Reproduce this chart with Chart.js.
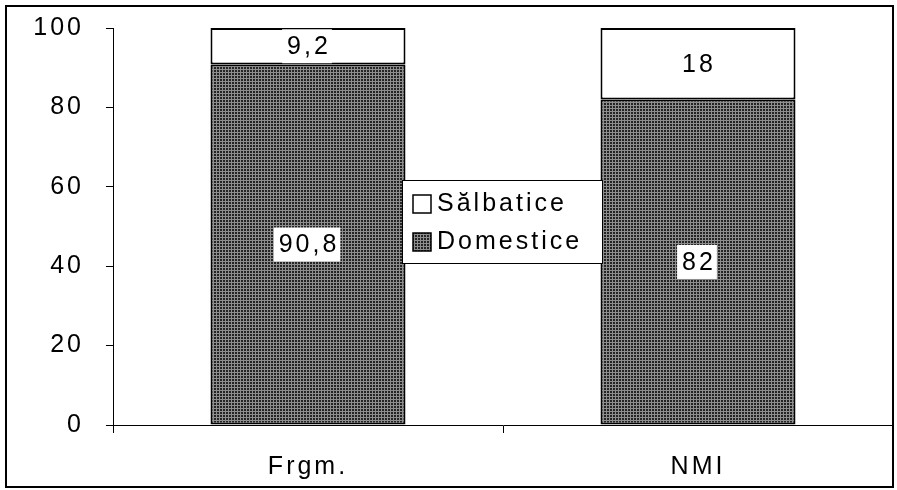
<!DOCTYPE html>
<html>
<head>
<meta charset="utf-8">
<script src="https://cdn.jsdelivr.net/npm/chart.js@4.4.1/dist/chart.umd.min.js"></script>
<style>
  html, body { margin: 0; padding: 0; background: #fff; }
  #wrap { width: 897px; height: 490px; position: relative; }
</style>
</head>
<body>
<div id="wrap"><canvas id="c" width="897" height="490"></canvas></div>
<script>
const categories = ["Frgm.", "NMI"];
const domestice = [90.8, 82];
const salbatice = [9.2, 18];
const seriesNames = ["Domestice", "Sălbatice"];
const yTicks = [0, 20, 40, 60, 80, 100];

const FONT = "'Liberation Sans', Arial, sans-serif";
const FSIZE = 25;
const SPACING = '3px';

function makePattern() {
  const t = document.createElement('canvas');
  t.width = 3; t.height = 3;
  const g = t.getContext('2d');
  g.fillStyle = '#8e8e8e';
  g.fillRect(0, 0, 3, 3);
  g.fillStyle = '#242424';
  g.fillRect(1, 1, 2, 2);
  return document.getElementById('c').getContext('2d').createPattern(t, 'repeat');
}
const pattern = makePattern();

function fmt(v) { return String(v).replace('.', ','); }

const spacingPlugin = {
  id: 'spacing',
  beforeUpdate(chart) { chart.ctx.letterSpacing = SPACING; },
  beforeLayout(chart) { chart.ctx.letterSpacing = SPACING; },
  beforeDraw(chart) { chart.ctx.letterSpacing = SPACING; }
};

const labelPlugin = {
  id: 'valueLabels',
  afterDatasetsDraw(chart) {
    const ctx = chart.ctx;
    ctx.save();
    ctx.letterSpacing = SPACING;
    ctx.font = FSIZE + 'px ' + FONT;
    ctx.textAlign = 'center';
    ctx.textBaseline = 'middle';
    chart.data.datasets.forEach((ds, di) => {
      const meta = chart.getDatasetMeta(di);
      meta.data.forEach((el, i) => {
        const txt = fmt(ds.data[i]);
        const cx = el.x;
        const cy = (el.y + el.base) / 2;
        const w = ctx.measureText(txt).width;
        ctx.fillStyle = '#fff';
        ctx.fillRect(cx - w / 2 - 4, cy - 17, w + 6, 34);
        ctx.fillStyle = '#000';
        ctx.fillText(txt, cx + 1, cy + 1);
      });
    });
    ctx.restore();
  }
};

const legendPlugin = {
  id: 'boxLegend',
  afterDraw(chart) {
    const ctx = chart.ctx;
    ctx.save();
    ctx.letterSpacing = SPACING;
    const x = 402, y = 180, w = 200, h = 83;
    ctx.fillStyle = '#fff';
    ctx.fillRect(x, y, w, h);
    ctx.strokeStyle = '#000';
    ctx.lineWidth = 1;
    ctx.strokeRect(x + 0.5, y + 0.5, w, h);
    ctx.font = FSIZE + 'px ' + FONT;
    ctx.textBaseline = 'middle';
    ctx.textAlign = 'left';
    const items = [chart.data.datasets[1], chart.data.datasets[0]];
    items.forEach((ds, k) => {
      const cy = y + 23 + k * 38;
      ctx.fillStyle = ds.backgroundColor;
      ctx.fillRect(x + 11, cy - 8, 18, 18);
      ctx.strokeStyle = '#000';
      ctx.lineWidth = 1.5;
      ctx.strokeRect(x + 11, cy - 8, 18, 18);
      ctx.fillStyle = '#000';
      ctx.fillText(ds.label, x + 35, cy + 1);
    });
    ctx.strokeStyle = '#000';
    ctx.lineWidth = 2;
    ctx.strokeRect(6, 6, 887, 481);
    ctx.restore();
  }
};

new Chart(document.getElementById('c'), {
  type: 'bar',
  data: {
    labels: categories,
    datasets: [
      { label: seriesNames[0], data: domestice, backgroundColor: pattern, borderColor: '#000', borderWidth: 2, borderSkipped: false },
      { label: seriesNames[1], data: salbatice, backgroundColor: '#fff', borderColor: '#000', borderWidth: 2, borderSkipped: false }
    ]
  },
  options: {
    responsive: false,
    animation: false,
    events: [],
    layout: { padding: { top: 28, right: 4, left: 0, bottom: 0 } },
    datasets: { bar: { categoryPercentage: 1, barPercentage: 0.5 } },
    plugins: { legend: { display: false }, tooltip: { enabled: false } },
    scales: {
      x: {
        stacked: true,
        afterFit(s) { s.height = 65; s.paddingLeft = 0; s.paddingRight = 0; },
        grid: { display: true, drawOnChartArea: false, drawTicks: true, tickLength: 8, color: '#000', offset: true },
        border: { display: true, color: '#000', width: 1 },
        ticks: { color: '#000', font: { family: FONT, size: FSIZE }, padding: 19 }
      },
      y: {
        stacked: true,
        min: 0, max: 100,
        afterFit(s) { s.width = 113; s.paddingTop = 0; s.paddingBottom = 0; },
        afterBuildTicks(s) { s.ticks = yTicks.map(v => ({ value: v })); },
        grid: { display: true, drawOnChartArea: false, drawTicks: true, tickLength: 7, color: '#000' },
        border: { display: true, color: '#000', width: 1 },
        ticks: { color: '#000', font: { family: FONT, size: FSIZE }, padding: 22 }
      }
    }
  },
  plugins: [spacingPlugin, labelPlugin, legendPlugin]
});
</script>
</body>
</html>
